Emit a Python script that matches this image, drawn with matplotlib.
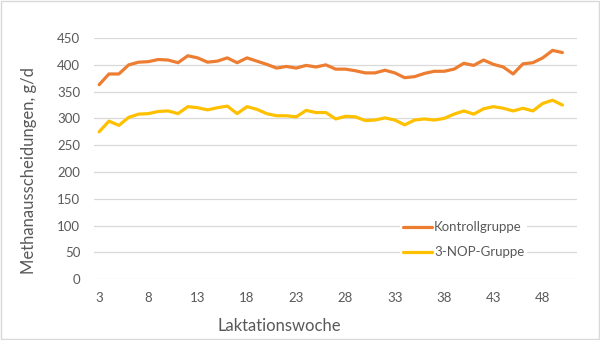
import matplotlib.pyplot as plt
from matplotlib.patches import Rectangle

# Laktationswochen 3..50
weeks = list(range(3, 51))

kontroll = [363, 383, 383, 400, 405, 406, 410, 409, 404, 417,
            413, 405, 407, 413, 404, 413, 407, 401, 394, 397,
            394, 399, 396, 400, 392, 392, 389, 385, 385, 390,
            385, 376, 378, 384, 388, 388, 392, 403, 399, 409,
            401, 396, 383, 402, 404, 413, 427, 423]

nop = [275, 295, 287, 302, 308, 309, 313, 314, 309, 322,
       320, 316, 320, 323, 309, 322, 317, 309, 305, 305,
       303, 315, 311, 311, 299, 304, 303, 296, 297, 301,
       297, 288, 297, 299, 297, 300, 308, 314, 308, 318,
       322, 319, 314, 319, 314, 328, 334, 325]

xticks = list(range(3, 49, 5))
yticks = list(range(0, 451, 50))

plt.rcParams['font.family'] = ['Lato', 'DejaVu Sans']
grau = '#595959'

fig = plt.figure(figsize=(6, 3.4), dpi=100)
ax = fig.add_axes([0.157, 0.179, 0.805, 0.709])

ax.plot(weeks, kontroll, color='#ED7D31', lw=2.3, solid_joinstyle='round',
        solid_capstyle='round', label='Kontrollgruppe', zorder=3)
ax.plot(weeks, nop, color='#FFC000', lw=2.3, solid_joinstyle='round',
        solid_capstyle='round', label='3-NOP-Gruppe', zorder=3)

ax.set_xlim(2.5, 51.5)
ax.set_ylim(0, 450)
ax.set_xticks(xticks)
ax.set_yticks(yticks)
ax.grid(axis='y', color='#d9d9d9', lw=0.9)
ax.set_axisbelow(True)
for s in ax.spines.values():
    s.set_visible(False)
ax.tick_params(length=0, labelsize=9.5, labelcolor=grau)
ax.tick_params(axis='y', pad=10)
ax.tick_params(axis='x', pad=9)

ax.set_xlabel('Laktationswoche', fontsize=12, color=grau)
ax.set_ylabel('Methanausscheidungen, g/d', fontsize=12, color=grau)
ax.xaxis.set_label_coords(0.383, -0.16)
ax.yaxis.set_label_coords(-0.119, 0.45)

leg = ax.legend(loc='center left', bbox_to_anchor=(0.62, 0.163), frameon=True,
                fontsize=9.5, handlelength=2.2, handletextpad=0.15,
                labelspacing=1.0, borderpad=0.2)
leg.get_frame().set_facecolor('white')
leg.get_frame().set_edgecolor('none')
leg.get_frame().set_alpha(1)
for t in leg.get_texts():
    t.set_color(grau)

fig.patches.append(Rectangle((0.002, 0.003), 0.996, 0.994, transform=fig.transFigure,
                             fill=False, edgecolor='#d9d9d9', lw=1))

fig.savefig('out.png', dpi=100)
